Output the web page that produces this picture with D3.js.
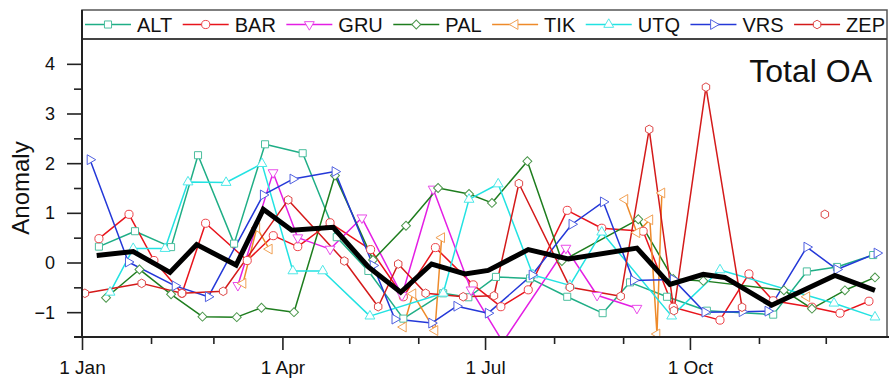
<!DOCTYPE html>
<html><head><meta charset="utf-8">
<script src="https://cdn.jsdelivr.net/npm/d3@7"></script>
<style>body{margin:0;background:#fff}text{font-family:"Liberation Sans",Arial,sans-serif;fill:#111}</style>
</head><body>
<svg id="c" width="891" height="381"></svg>
<script>
// ---- data (day of year, anomaly) ----
const names  = ["ALT","BAR","GRU","PAL","TIK","UTQ","VRS","ZEP"];
const colors = ["#1fae86","#e8141c","#e41ee4","#1e7d1e","#ee8a2a","#22e2e2","#2438d8","#d41a1a"];
const shapes = ["square","circle","triDown","diamond","triLeft","triUp","triRight","hexagon"];

const altDay = [7.6,23.8,40.0,52.1,68.3,82.2,99.1,114.4,128.6,144.3,162.2,173.5,185.9,201.2,217.9,233.8,246.1,262.7,280.6,310.4,325.5,339.0,355.3];
const altVal = [0.32,0.63,0.31,2.16,0.38,2.38,2.2,0.51,-0.17,-1.13,-0.62,-0.7,-0.29,-0.32,-0.69,-1.02,-0.4,-0.69,-0.97,-1.05,-0.18,-0.09,0.15];

const barDay = [7.6,21.1,32.3,44.9,55.5,74.2,85.9,96.9,111.4,129.6,144.3,158.7,175.7,188.1,200.4,217.9,233.4,252.0,265.5,286.5,299.5,310.4,327.8,340.4,353.4];
const barVal = [0.48,0.97,0.04,-0.62,0.79,0.04,0.54,0.32,0.8,0.26,-0.69,0.3,-0.45,-0.89,-0.55,1.05,0.69,0.63,-0.9,-1.16,-0.23,-0.77,-0.9,-1.02,-0.78];

const gruDay = [70.0,85.8,96.9,111.4,125.7,143.7,157.7,174.7,189.0,217.3,231.3,249.2];
const gruVal = [-0.46,1.81,0.5,0.27,0.9,-0.66,1.48,-0.55,-1.6,0.29,-0.66,-0.92];

const palDay = [10.8,25.8,40.0,54.1,69.5,80.6,95.2,113.6,130.7,145.5,159.9,173.8,184.1,200.0,215.5,249.8,265.5,279.0,315.2,327.8,342.6,356.1];
const palVal = [-0.71,-0.14,-0.64,-1.09,-1.1,-0.91,-1.0,1.75,0.05,0.74,1.5,1.38,1.2,2.04,0.03,0.87,-0.33,-0.37,-0.56,-0.93,-0.56,-0.3];

const tikDay = [72.3,78.5,84.1,null,144.3,148.6,158.5,161.5,null,243.8,249.2,255.0,258.2,260.4,null,325.5];
const tikVal = [-0.42,0.7,0.27,null,-1.3,-0.63,-1.37,0.5,null,1.27,0.6,0.86,-1.44,1.4,null,-0.69];

const utqDay = [12.6,23.0,37.3,47.6,64.7,80.8,94.7,108.1,129.3,162.2,173.8,186.9,202.5,219.1,233.4,264.8,286.5,337.7,356.1];
const utqVal = [-0.6,0.28,0.28,1.62,1.61,1.99,-0.17,-0.17,-1.08,-0.62,1.27,1.58,-0.25,-0.46,0.61,-1.08,-0.15,-0.82,-1.1];

const vrsDay = [3.6,20.8,41.8,56.7,81.4,94.7,113.6,130.7,140.5,157.0,168.3,182.4,202.1,220.0,234.1,247.6,265.5,279.7,296.4,308.0,325.5,339.0,357.0];
const vrsVal = [2.07,0.01,-0.47,-0.69,1.36,1.68,1.83,-0.06,-1.14,-1.22,-0.88,-1.02,-0.25,0.77,1.22,-0.36,-0.34,-1.0,-0.99,-0.98,0.31,-0.14,0.19];

const zepDay = [1.3,26.8,44.9,63.4,92.6,117.8,133.0,142.0,154.3,171.2,185.0,196.2,219.1,241.9,254.7,265.8,280.2,296.4,null,333.6];
const zepVal = [-0.62,-0.42,-0.62,-0.58,1.26,0.03,-0.89,-0.03,-0.62,-0.69,-0.67,1.59,-0.5,-0.68,2.68,-0.97,3.53,-0.9,null,0.97];

const totalDay = [6.6,23.0,39.5,51.5,69.2,81.4,94.2,112.8,128.6,143.1,157.0,172.0,182.4,200.4,218.4,249.2,264.0,279.0,288.7,309.7,338.1,356.1];
const totalVal = [0.14,0.22,-0.2,0.36,-0.05,1.07,0.65,0.71,-0.09,-0.6,-0.03,-0.23,-0.16,0.26,0.07,0.29,-0.44,-0.24,-0.3,-0.86,-0.26,-0.56];

const monthStarts = [0,31,59,90,120,151,181,212,243,273,304,334];
const monthLabels = ["1 Jan","","","1 Apr","","","1 Jul","","","1 Oct","",""];
const yTicks = [-1,0,1,2,3,4];
const yMinor = [-0.5,0.5,1.5,2.5,3.5];
const panelLabel = "Total OA";
const yTitle = "Anomaly";

// ---- layout ----
const svg = d3.select("#c");
const L = 82, R = 887, T = 39, B = 337, LT = 10;
const x = d3.scaleLinear().domain([0, 361.5]).range([L, R]);
const y = d3.scaleLinear().domain([-1.5, 4.5]).range([B, T]);

const dayArr = [altDay,barDay,gruDay,palDay,tikDay,utqDay,vrsDay,zepDay];
const valArr = [altVal,barVal,gruVal,palVal,tikVal,utqVal,vrsVal,zepVal];
const series = names.map((n,i)=>({name:n,color:colors[i],shape:shapes[i],
  pts: dayArr[i].map((d,j)=>({d:d,v:valArr[i][j]}))}));

svg.append("defs").append("clipPath").attr("id","clip")
  .append("rect").attr("x",L).attr("y",T).attr("width",R-L).attr("height",B-T);

function markerPath(shape){
  const r = 4.3;
  switch(shape){
    case "square": return d3.symbol(d3.symbolSquare, 50)();
    case "circle": return d3.symbol(d3.symbolCircle, 52)();
    case "diamond": return d3.symbol(d3.symbolSquare, 40)();
    case "hexagon": {
      const p=[]; for(let k=0;k<6;k++){const a=Math.PI/6+k*Math.PI/3;p.push([r*Math.cos(a),r*Math.sin(a)]);}
      return "M"+p.map(q=>q.join(",")).join("L")+"Z";
    }
    default: return d3.symbol(d3.symbolTriangle, 42)();
  }
}
function markerRot(shape){
  return {diamond:45,triDown:180,triLeft:-90,triRight:90}[shape]||0;
}
function lighter(c){ return d3.interpolateRgb(c,"#ffffff")(0.2); }

const plot = svg.append("g").attr("clip-path","url(#clip)");
const line = d3.line().defined(p=>p.v!=null).x(p=>x(p.d)).y(p=>y(p.v));

series.forEach(s=>{
  plot.append("path").attr("d",line(s.pts)).attr("fill","none")
    .attr("stroke",s.color).attr("stroke-width",1.5).attr("stroke-linejoin","round");
});
series.forEach(s=>{
  plot.selectAll(null).data(s.pts.filter(p=>p.v!=null)).enter().append("path")
    .attr("d",markerPath(s.shape))
    .attr("transform",p=>`translate(${x(p.d)},${y(p.v)}) rotate(${markerRot(s.shape)})`)
    .attr("fill","#fff").attr("stroke",lighter(s.color)).attr("stroke-width",1);
});
const tot = totalDay.map((d,j)=>({d:d,v:totalVal[j]}));
plot.append("path").attr("d",line(tot)).attr("fill","none")
  .attr("stroke","#000").attr("stroke-width",5).attr("stroke-linejoin","miter");

// ---- frame ----
svg.append("rect").attr("x",L).attr("y",LT).attr("width",R-L).attr("height",B-LT)
  .attr("fill","none").attr("stroke","#555").attr("stroke-width",1.5);
svg.append("line").attr("x1",L).attr("x2",R).attr("y1",T).attr("y2",T)
  .attr("stroke","#444").attr("stroke-width",2);
svg.append("line").attr("x1",L).attr("x2",L).attr("y1",LT).attr("y2",B)
  .attr("stroke","#222").attr("stroke-width",2);
svg.append("line").attr("x1",74).attr("x2",889).attr("y1",B).attr("y2",B)
  .attr("stroke","#222").attr("stroke-width",2);

// ---- axes ----
const yAx = svg.append("g").attr("transform",`translate(${L},0)`)
  .call(d3.axisLeft(y).tickValues(yTicks).tickSize(15).tickPadding(12).tickFormat(d3.format("d")));
const yAxMin = svg.append("g").attr("transform",`translate(${L},0)`)
  .call(d3.axisLeft(y).tickValues(yMinor).tickSize(8).tickFormat(""));
const xAx = svg.append("g").attr("transform",`translate(0,${B})`)
  .call(d3.axisBottom(x).tickValues(monthStarts).tickSize(7).tickPadding(17)
    .tickFormat((d,i)=>monthLabels[i]));
[yAx,yAxMin,xAx].forEach(g=>{
  g.select(".domain").remove();
  g.selectAll(".tick line").attr("stroke","#222").attr("stroke-width",1.6);
  g.selectAll("text").attr("fill","#111").style("font-family","'Liberation Sans',Arial,sans-serif");
});
yAx.selectAll("text").style("font-size","18px").attr("dy","0.34em");
xAx.selectAll(".tick").filter((d,i)=>monthLabels[i]!=="").select("line").attr("y2",13);
xAx.selectAll("text").style("font-size","19px");

svg.append("text").attr("transform","translate(29,188) rotate(-90)")
  .attr("text-anchor","middle").style("font-size","24px").text(yTitle);
svg.append("text").attr("x",872).attr("y",82).attr("text-anchor","end")
  .style("font-size","32px").text(panelLabel);

// ---- legend ----
const lg = svg.append("g");
let lx = 85; const ly = 24.5;
series.forEach(s=>{
  const g = lg.append("g");
  g.append("line").attr("x1",lx).attr("x2",lx+46).attr("y1",ly).attr("y2",ly)
    .attr("stroke",s.color).attr("stroke-width",1.5);
  g.append("path").attr("d",markerPath(s.shape))
    .attr("transform",`translate(${lx+23},${ly}) rotate(${markerRot(s.shape)})`)
    .attr("fill","#fff").attr("stroke",lighter(s.color)).attr("stroke-width",1);
  const t = g.append("text").attr("x",lx+52).attr("y",ly).attr("dy","0.35em")
    .style("font-size","20px").text(s.name);
  lx = lx + 52 + t.node().getComputedTextLength() + 10.5;
});
</script>
</body></html>
